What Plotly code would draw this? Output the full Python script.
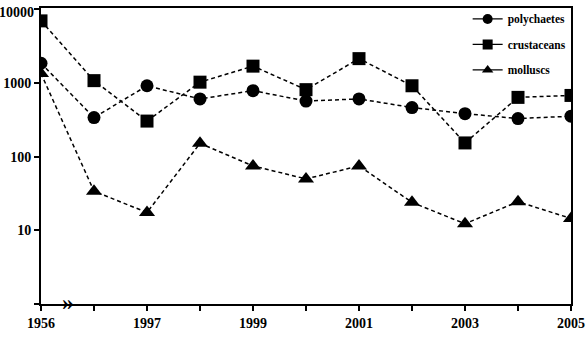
import plotly.graph_objects as go

years = ["1956", "1996", "1997", "1998", "1999", "2000", "2001", "2002", "2003", "2004", "2005"]
tick_labels = ["1956", "", "1997", "", "1999", "", "2001", "", "2003", "", "2005"]
y_tickvals = [1, 10, 100, 1000, 10000]
y_ticklabels = ["", "10", "100", "1000", "10000"]
polychaetes = [1860, 340, 920, 610, 790, 570, 610, 465, 385, 330, 355]
crustaceans = [7000, 1080, 305, 1030, 1700, 815, 2150, 920, 154, 640, 680]
molluscs = [1350, 34, 17.5, 152, 75, 50, 75, 24, 12.3, 24.5, 14.5]

series = [
    ("polychaetes", polychaetes, "circle"),
    ("crustaceans", crustaceans, "square"),
    ("molluscs", molluscs, "triangle-up"),
]

FONT = "Liberation Serif"
xi = list(range(len(years)))

fig = go.Figure()
for name, vals, sym in series:
    fig.add_trace(go.Scatter(
        x=xi, y=vals, mode="lines+markers", name=name, showlegend=False,
        line=dict(color="black", width=1.5, dash="4px,3px"),
        marker=dict(symbol=sym, size=13 if sym != "triangle-up" else 14, color="black"),
    ))
for name, vals, sym in series:
    fig.add_trace(go.Scatter(
        x=[None], y=[None], mode="lines+markers", name=f"<b>{name}</b>", legendgroup=name,
        line=dict(color="black", width=1.2),
        marker=dict(symbol=sym, size=10, color="black"),
    ))

fig.add_annotation(x=0.5, y=0, xref="x", yref="y", text="<b>»</b>", showarrow=False,
                   font=dict(family=FONT, size=24, color="black"), yshift=2)
# top tick label, nudged down so it stays inside the picture
fig.add_annotation(x=0, y=1, xref="paper", yref="paper", text=f"<b>{y_ticklabels[-1]}</b>",
                   showarrow=False, xanchor="right", yanchor="middle", xshift=-5, yshift=-4,
                   font=dict(family=FONT, size=14, color="black"))

fig.update_layout(
    template="none",
    width=587, height=340,
    margin=dict(l=41, r=16, t=4, b=36),
    paper_bgcolor="white", plot_bgcolor="white",
    font=dict(family=FONT, color="black"),
    showlegend=True,
    legend=dict(x=0.805, y=1.012, xanchor="left", yanchor="top",
                font=dict(family=FONT, size=11.5, color="black"),
                bgcolor="rgba(0,0,0,0)", tracegroupgap=6.5, itemwidth=30,
                traceorder="grouped"),
)
fig.update_xaxes(
    range=[0, 10], tickmode="array", tickvals=xi, ticktext=[f"<b>{t}</b>" if t else "" for t in tick_labels],
    ticks="outside", ticklen=5, tickwidth=1.5, tickcolor="black",
    showline=True, linecolor="black", linewidth=1.5, mirror=True,
    showgrid=False, zeroline=False, automargin=False,
    tickfont=dict(family=FONT, size=14, color="black"),
)
fig.update_yaxes(
    type="log", range=[0, 4.02], tickmode="array",
    tickvals=y_tickvals, ticktext=[f"<b>{t}</b>" if (t and v < 10000) else "" for t, v in zip(y_ticklabels, y_tickvals)],
    ticks="outside", ticklen=5, tickwidth=1.5, tickcolor="black",
    showline=True, linecolor="black", linewidth=2, mirror=True,
    showgrid=False, zeroline=False, automargin=False,
    tickfont=dict(family=FONT, size=14, color="black"),
)

fig.write_html("out.html")
